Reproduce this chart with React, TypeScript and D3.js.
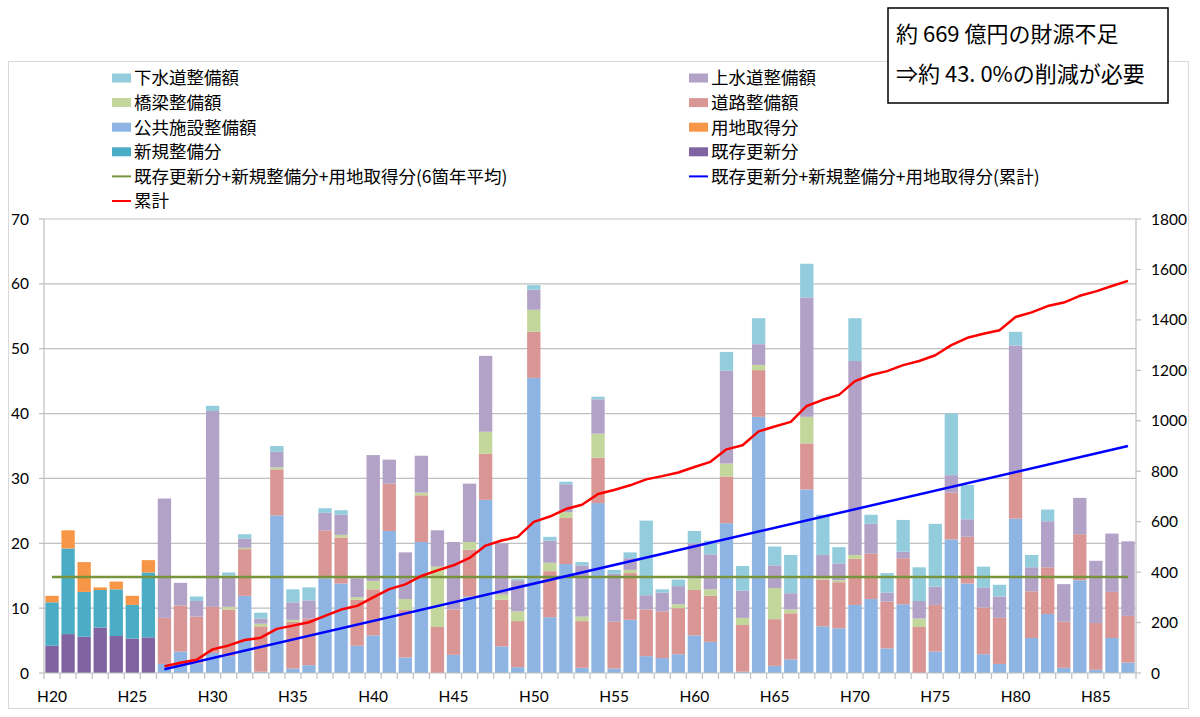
import * as d3 from "d3";

// categories H20..H87
const years = d3.range(20, 88).map(n => `H${n}`);
const histYears = years.slice(0, 7); // H20-H26 実績
const projYears = years.slice(7); // H27-H87 推計

// 実績 (H20-H26)
const kizon = [4.2, 6.0, 5.6, 7.0, 5.7, 5.3, 5.5]; // 既存更新分
const shinki = [6.7, 13.2, 6.9, 5.8, 7.2, 5.2, 10.0]; // 新規整備分
const yochi = [1.0, 2.8, 4.6, 0.4, 1.2, 1.4, 1.9]; // 用地取得分

// 推計 (H27-H87)
const koukyou = [
  1.4, 3.3, 1.5, 3.1, 2.6, 11.9, 0.2, 24.3, 0.7, 1.2, 14.6, 13.8, 4.2, 5.8, 21.9, 2.4, 20.2, 0, 2.8, 11.8, 26.7, 4.1,
  0.9, 45.5, 8.6, 16.8, 0.8, 26.2, 0.7, 8.2, 2.6, 2.3, 2.9, 5.8, 4.8, 23.1, 0.2, 39.5, 1.1, 2.1, 28.3, 7.2, 6.9, 10.5,
  11.4, 3.8, 10.6, 0, 3.3, 20.6, 13.8, 2.9, 1.4, 23.8, 5.4, 9.1, 0.8, 14.3, 0.5, 5.4, 1.6,
];
const douro = [
  7.1, 7.1, 7.2, 7.1, 7.2, 7.2, 7.0, 7.1, 7.2, 7.2, 7.4, 7.1, 7.1, 7.1, 7.3, 7.3, 7.2, 7.1, 7.0, 7.2, 7.1, 7.2, 7.1,
  7.1, 7.1, 7.1, 7.2, 7.0, 7.2, 7.2, 7.2, 7.2, 7.1, 7.0, 7.1, 7.2, 7.2, 7.2, 7.2, 7.1, 7.1, 7.2, 7.1, 7.1, 7.0, 7.2,
  7.1, 7.1, 7.2, 7.2, 7.2, 7.2, 7.1, 7.2, 7.2, 7.2, 7.1, 7.1, 7.2, 7.1, 7.2,
];
const kyouryou = [
  0, 0, 0, 0, 0.4, 0.2, 0.4, 0.3, 0.3, 0, 0, 0.4, 0.4, 1.3, 0, 1.7, 0.4, 9.3, 0, 1.2, 3.4, 0.8, 1.5, 3.4, 1.3, 0.9, 0.7,
  3.7, 0, 0.5, 0, 0, 0.6, 1.8, 1.0, 2.0, 1.1, 0.8, 4.8, 0.6, 4.1, 0.2, 0.3, 0.6, 0, 0, 0, 1.3, 0, 0, 0, 0, 0, 0, 0, 0,
  0, 0, 0, 0, 0,
];
const jousui = [
  18.4, 3.5, 2.4, 30.2, 4.8, 1.4, 0.8, 2.4, 2.7, 2.8, 2.7, 3.1, 2.9, 19.4, 3.7, 7.2, 5.7, 5.6, 10.4, 9.0, 11.7, 7.9,
  4.8, 3.1, 3.4, 4.3, 7.9, 5.3, 7.4, 1.8, 2.2, 2.9, 2.8, 5.4, 5.4, 14.3, 4.2, 3.2, 3.5, 2.5, 18.4, 3.6, 2.6, 29.9, 4.6,
  1.4, 1.0, 2.7, 2.8, 2.7, 2.7, 3.1, 3.3, 19.5, 3.7, 7.1, 5.8, 5.6, 9.6, 9.0, 11.5,
];
const gesui = [
  0, 0, 0.7, 0.8, 0.5, 0.7, 0.9, 0.9, 2.0, 2.0, 0.7, 0.7, 0, 0, 0, 0, 0, 0, 0, 0, 0, 0, 0.2, 0.7, 0.6, 0.4, 0.5, 0.4,
  0.6, 0.9, 11.5, 0.5, 1.0, 1.9, 2.1, 2.9, 3.8, 4.0, 2.9, 5.9, 5.2, 6.2, 2.5, 6.6, 1.4, 3.0, 4.9, 5.2, 9.7, 9.5, 5.3,
  3.2, 1.8, 2.1, 1.9, 1.8, 0, 0, 0, 0, 0,
];

const avg6 = 14.8; // 6箇年平均
const blueCum = [
  { year: "H27", v: 15 },
  { year: "H87", v: 900 },
];

const leftTicks = [0, 10, 20, 30, 40, 50, 60, 70];
const rightTicks = [0, 200, 400, 600, 800, 1000, 1200, 1400, 1600, 1800];

const keys = ["kizon", "shinki", "yochi", "koukyou", "douro", "kyouryou", "jousui", "gesui"];
const colors: Record<string, string> = {
  kizon: "#8064A2",
  shinki: "#4BACC6",
  yochi: "#F79646",
  koukyou: "#8EB4E3",
  douro: "#D99694",
  kyouryou: "#C3D69B",
  jousui: "#B3A2C7",
  gesui: "#93CDDD",
};

const rows = years.map((year, i) => {
  const h = i < histYears.length;
  const j = i - histYears.length;
  return {
    year,
    kizon: h ? kizon[i] : 0,
    shinki: h ? shinki[i] : 0,
    yochi: h ? yochi[i] : 0,
    koukyou: h ? 0 : koukyou[j],
    douro: h ? 0 : douro[j],
    kyouryou: h ? 0 : kyouryou[j],
    jousui: h ? 0 : jousui[j],
    gesui: h ? 0 : gesui[j],
  };
});

const projTotals = projYears.map((_, j) => koukyou[j] + douro[j] + kyouryou[j] + jousui[j] + gesui[j]);
const redCum = Array.from(d3.cumsum(projTotals));

const legendLeft = [
  { label: "下水道整備額", key: "gesui" },
  { label: "橋梁整備額", key: "kyouryou" },
  { label: "公共施設整備額", key: "koukyou" },
  { label: "新規整備分", key: "shinki" },
  { label: "既存更新分+新規整備分+用地取得分(6箇年平均)", line: "#77933C" },
  { label: "累計", line: "#FF0000" },
];
const legendRight = [
  { label: "上水道整備額", key: "jousui" },
  { label: "道路整備額", key: "douro" },
  { label: "用地取得分", key: "yochi" },
  { label: "既存更新分", key: "kizon" },
  { label: "既存更新分+新規整備分+用地取得分(累計)", line: "#0000FF" },
];

export default function App() {
  const W = 1200;
  const H = 717;
  const left = 44;
  const right = 1136;
  const top = 219;
  const bottom = 673;

  const x = d3.scaleBand().domain(years).range([left, right]).paddingInner(0.17).paddingOuter(0.085);
  const yL = d3.scaleLinear().domain([0, 70]).range([bottom, top]);
  const yR = d3.scaleLinear().domain([0, 1800]).range([bottom, top]);
  const cx = (d: string) => x(d)! + x.bandwidth() / 2;
  const slot = (x.step() - x.bandwidth()) / 2;
  const bounds = [...years.map(d => x(d)! - slot), right];

  const series = d3.stack<any>().keys(keys)(rows);

  const redLine = d3
    .line<number>()
    .x((_, j) => cx(projYears[j]))
    .y(d => yR(d))(redCum);
  const blueLine = d3
    .line<{ year: string; v: number }>()
    .x(d => cx(d.year))
    .y(d => yR(d.v))(blueCum);
  const greenLine = d3
    .line<string>()
    .x(d => cx(d))
    .y(() => yL(avg6))(years);

  const axisFont = "Lato, 'Open Sans', sans-serif";
  const jpFont = "'Noto Sans CJK JP', sans-serif";
  const grid = "#BFBFBF";

  const legendItem = (it: any, i: number, sx: number) => {
    const cy = 78 + i * 24.6;
    return (
      <g key={it.label}>
        {it.key ? (
          <rect x={sx} y={cy - 4.5} width={19} height={9} fill={colors[it.key]} />
        ) : (
          <line x1={sx} x2={sx + 19} y1={cy} y2={cy} stroke={it.line} strokeWidth={2} />
        )}
        <text x={sx + 22} y={cy} dy="0.36em" fontSize={17.5} fontFamily={jpFont} fill="#000">
          {it.label}
        </text>
      </g>
    );
  };

  return (
    <div style={{ position: "fixed", left: 0, top: 0 }}>
      <svg width={W} height={H} style={{ display: "block", background: "#fff" }}>
        <rect x={8.5} y={61.5} width={1180} height={647} fill="#fff" stroke="#D9D9D9" />

        {/* gridlines */}
        {leftTicks.slice(1).map(t => (
          <line key={t} x1={left} x2={right} y1={yL(t)} y2={yL(t)} stroke={grid} strokeWidth={1.2} />
        ))}

        {/* bars */}
        {series.map(s => (
          <g key={s.key} fill={colors[s.key]}>
            {s.map((d, i) =>
              d[1] - d[0] > 0 ? (
                <rect
                  key={i}
                  x={x(d.data.year)}
                  y={yL(d[1])}
                  width={x.bandwidth()}
                  height={yL(d[0]) - yL(d[1])}
                />
              ) : null,
            )}
          </g>
        ))}

        {/* lines */}
        <path d={greenLine!} fill="none" stroke="#77933C" strokeWidth={2.5} />
        <path d={blueLine!} fill="none" stroke="#0000FF" strokeWidth={2.5} />
        <path d={redLine!} fill="none" stroke="#FF0000" strokeWidth={2.5} strokeLinejoin="round" />

        {/* axes */}
        <line x1={left} x2={left} y1={top} y2={bottom} stroke={grid} strokeWidth={1.2} />
        <line x1={right} x2={right} y1={top} y2={bottom} stroke={grid} strokeWidth={1.2} />
        <line x1={left} x2={right} y1={bottom} y2={bottom} stroke={grid} strokeWidth={1.2} />
        {leftTicks.map(t => (
          <g key={t}>
            <line x1={left - 5} x2={left} y1={yL(t)} y2={yL(t)} stroke={grid} strokeWidth={1.2} />
            <text
              x={29}
              y={yL(t)}
              dy="0.36em"
              textAnchor="end"
              fontSize={15.5}
              fontFamily={axisFont}
              fill="#000"
            >
              {t}
            </text>
          </g>
        ))}
        {rightTicks.map(t => (
          <g key={t}>
            <line x1={right} x2={right + 5} y1={yR(t)} y2={yR(t)} stroke={grid} strokeWidth={1.2} />
            <text x={1151} y={yR(t)} dy="0.36em" fontSize={15.5} fontFamily={axisFont} fill="#000">
              {t}
            </text>
          </g>
        ))}
        {bounds.map((b, i) => (
          <line key={i} x1={b} x2={b} y1={bottom} y2={bottom + 6} stroke={grid} strokeWidth={1.2} />
        ))}
        {years
          .filter((_, i) => i % 5 === 0)
          .map(d => (
            <text
              key={d}
              x={cx(d)}
              y={702}
              textAnchor="middle"
              fontSize={15.5}
              fontFamily={axisFont}
              fill="#000"
            >
              {d}
            </text>
          ))}

        {/* legend */}
        {legendLeft.map((it, i) => legendItem(it, i, 112))}
        {legendRight.map((it, i) => legendItem(it, i, 689))}

        {/* note box */}
        <rect x={888} y={8} width={280} height={95} fill="#fff" stroke="#000" strokeWidth={1.5} />
        <text x={896} y={42} fontSize={22} fontFamily={jpFont} fill="#000">
          約 669 億円の財源不足
        </text>
        <text x={896} y={82} fontSize={22} fontFamily={jpFont} fill="#000">
          ⇒約 43. 0%の削減が必要
        </text>
      </svg>
    </div>
  );
}
